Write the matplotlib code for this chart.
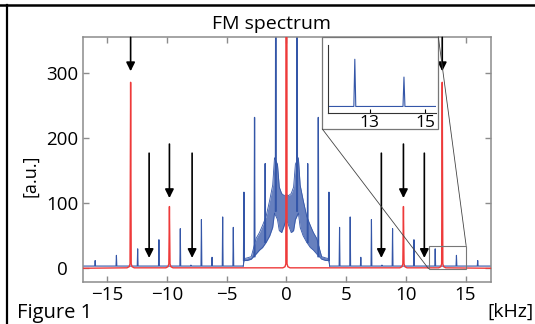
import matplotlib
matplotlib.use("Agg")
import matplotlib.pyplot as plt
from matplotlib.patches import Rectangle, ConnectionPatch
from matplotlib.lines import Line2D

plt.rcParams['font.family'] = ['Open Sans', 'DejaVu Sans']

# blue trace: comb of spurs (kHz, a.u.), mirrored about 0
spur_f = [0.89, 1.78, 2.67, 3.56, 4.45, 5.34, 6.23, 7.12, 8.0, 8.89, 10.68, 12.46, 14.24, 16.02]
spur_h = [600, 161, 232, 117, 63, 79, 17, 75, 5, 61, 44, 30, 20, 12]
spur_foot = [88, 40, 18, 12, 3.5, 3.5, 3.5, 3.5, 3.5, 3.5, 3.5, 3.5, 3.5, 3.5]
blue_base = 3.5

# central hump of the blue trace: upper / lower edge of the dense band
hump_f = [0.0, 0.2, 0.4, 0.6, 0.75, 1.0, 1.15, 1.4, 1.7, 2.0, 2.26, 2.54, 2.8, 2.95, 3.3, 3.55, 3.62]
hump_hi = [113, 112, 115, 125, 160, 170, 128, 105, 80, 66, 55, 46, 28, 18, 16, 15, 3.5]
hump_lo = [76, 65, 55, 58, 75, 85, 63, 50, 40, 32, 28, 22, 17, 14, 12, 12, 3.5]

# red trace: narrow lines
red_f = [-13.05, -9.8, 0.0, 9.8, 13.05]
red_h = [286, 95, 2000, 95, 286]
red_skirt_df = [0.3, 0.12, 0.05]
red_skirt_h = [0.8, 2.5, 7]

# arrows (x, start, tip)
arrow_x = [-13.05, -11.5, -9.8, -7.9, 7.95, 9.8, 11.55, 13.05]
arrow_top = [355, 177, 191, 177, 177, 191, 177, 355]
arrow_tip = [303, 16, 108, 16, 16, 108, 16, 303]

BLUE = '#3456a8'
RED = '#ee3a3a'
GRAY = '#8c8c8c'

# mirror the comb
all_f = [-f for f in spur_f[::-1]] + spur_f
all_h = spur_h[::-1] + spur_h
all_foot = spur_foot[::-1] + spur_foot
hx = [-f for f in hump_f[::-1]] + hump_f[1:]
hhi = hump_hi[::-1] + hump_hi[1:]
hlo = hump_lo[::-1] + hump_lo[1:]


def outer_line(side):
    # baseline + spurs outside the hump
    xs, ys = [], []
    for f, h in zip(all_f, all_h):
        if abs(f) > 3.6 and (f > 0) == (side > 0):
            xs += [f - 0.035, f, f + 0.035]
            ys += [blue_base, h, blue_base]
    if side < 0:
        xs = [-18] + xs + [-3.62]
    else:
        xs = [3.62] + xs + [18]
    ys = [blue_base] + ys + [blue_base]
    return xs, ys


def draw_blue(ax):
    for side in (-1, 1):
        xs, ys = outer_line(side)
        ax.plot(xs, ys, color=BLUE, lw=0.8, zorder=2)


fig = plt.figure(figsize=(5.35, 3.24), dpi=100)
ax = fig.add_axes([0.156, 0.1296, 0.761, 0.757])

draw_blue(ax)
ax.fill_between(hx, hlo, hhi, color=BLUE, alpha=0.75, lw=0, zorder=2)
ax.plot(hx, hhi, color=BLUE, lw=0.6, zorder=2)
ax.plot(hx, hlo, color=BLUE, lw=0.6, zorder=2)
for f, h, ft in zip(all_f, all_h, all_foot):
    if abs(f) <= 3.6:
        ax.plot([f - 0.035, f, f + 0.035], [ft, h, ft], color=BLUE, lw=0.9, zorder=2)

# red
rx, ry = [-18], [0]
for f, h in zip(red_f, red_h):
    for d, s in zip(red_skirt_df, red_skirt_h):
        rx.append(f - d); ry.append(s)
    rx.append(f); ry.append(h)
    for d, s in zip(red_skirt_df[::-1], red_skirt_h[::-1]):
        rx.append(f + d); ry.append(s)
rx.append(18); ry.append(0)
ax.plot(rx, ry, color=RED, lw=1.0, zorder=3)

for x, t, p in zip(arrow_x, arrow_top, arrow_tip):
    ax.annotate('', xy=(x, p), xytext=(x, t),
                arrowprops=dict(arrowstyle='-|>', color='k', lw=1.2,
                                mutation_scale=13, shrinkA=0, shrinkB=0),
                zorder=4)

ax.set_xlim(-17, 17.1)
ax.set_ylim(-21, 356)
ax.set_xticks([-15, -10, -5, 0, 5, 10, 15])
ax.set_yticks([0, 100, 200, 300])
ax.tick_params(direction='in', top=True, right=True, length=4.5, width=1,
               color=GRAY, labelsize=13.5)
ax.tick_params(axis='x', pad=3)
ax.tick_params(axis='y', pad=15.5)
for lbl in ax.get_yticklabels():
    lbl.set_horizontalalignment('center')
for sp in ax.spines.values():
    sp.set_color(GRAY)
    sp.set_linewidth(1.1)

# zoom rectangle in main axes
zx0, zx1, zy0, zy1 = 11.9, 15.05, -0.5, 35
ax.add_patch(Rectangle((zx0, zy0), zx1 - zx0, zy1 - zy0, fill=False,
                       edgecolor='#777777', lw=0.8, zorder=5))

# inset box in figure coords
bx0, bx1, by0, by1 = 322.3 / 535, 438.3 / 535, 1 - 129 / 324, 1 - 36.7 / 324
fig.add_artist(Rectangle((bx0, by0), bx1 - bx0, by1 - by0, transform=fig.transFigure,
                         facecolor='white', edgecolor='#777777', lw=0.9, zorder=1))
fig.add_artist(ConnectionPatch(xyA=(bx0, by0), coordsA='figure fraction',
                               xyB=(zx0, zy0), coordsB=ax.transData,
                               color='#444444', lw=0.6, zorder=1))
fig.add_artist(ConnectionPatch(xyA=(bx1, by1), coordsA='figure fraction',
                               xyB=(zx1, zy1), coordsB=ax.transData,
                               color='#444444', lw=0.6, zorder=1))

axi = fig.add_axes([328.3 / 535, 1 - 112.7 / 324, 107.7 / 535, 67.7 / 324])
axi.set_zorder(2)
axi.patch.set_alpha(0)
draw_blue(axi)
axi.set_xlim(11.5, 15.4)
axi.set_ylim(0, 38)
axi.set_xticks([13, 15])
axi.set_yticks([])
axi.tick_params(direction='in', length=3, width=0.8, labelsize=12.5, pad=2)
axi.spines['top'].set_visible(False)
axi.spines['right'].set_visible(False)
for s in ('left', 'bottom'):
    axi.spines[s].set_color('#333333')
    axi.spines[s].set_linewidth(0.8)

# texts
fig.text(271 / 535, 1 - 29 / 324, 'FM spectrum', ha='center', va='baseline', fontsize=14)
fig.text(30 / 535, 1 - 176 / 324, '[a.u.]', rotation=90, ha='center', va='center', fontsize=13)
fig.text(17 / 535, 1 - 318 / 324, 'Figure 1', ha='left', va='baseline', fontsize=14.5)
fig.text(534 / 535, 1 - 317 / 324, '[kHz]', ha='right', va='baseline', fontsize=14)

# figure border, top and left
fig.add_artist(Line2D([0, 1], [1 - 4.5 / 324] * 2, transform=fig.transFigure, color='k', lw=1.8))
fig.add_artist(Line2D([7 / 535] * 2, [0, 1 - 4.5 / 324], transform=fig.transFigure, color='k', lw=1.6))

fig.savefig('out.png', dpi=100)
